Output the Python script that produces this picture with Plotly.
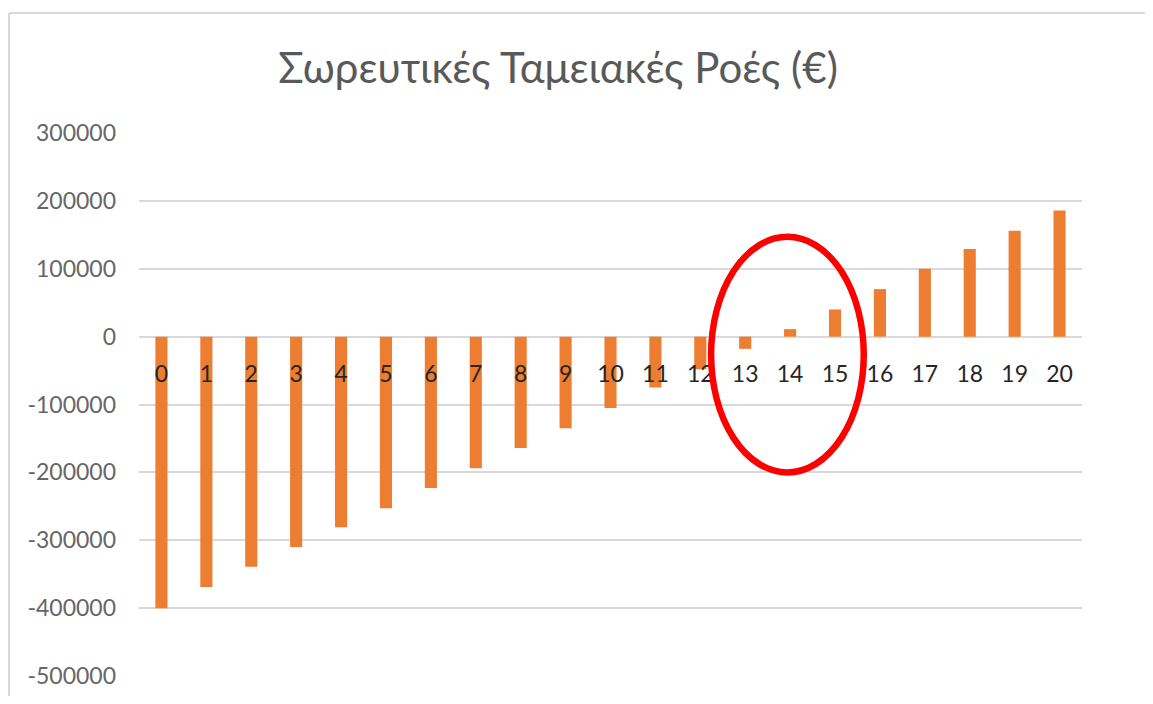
import plotly.graph_objects as go

years = list(range(21))
year_labels = [str(y) for y in years]
cumulative_cf = [-400000, -369000, -339000, -310000, -281000, -253000, -223000,
                 -194000, -164000, -135000, -105000, -75000, -48000, -18000,
                 11000, 40000, 70000, 100000, 129000, 156000, 186000]
y_ticks = [-500000, -400000, -300000, -200000, -100000, 0, 100000, 200000, 300000]
y_tick_labels = ["-500000", "-400000", "-300000", "-200000", "-100000", "0",
                 "100000", "200000", "300000"]

title_text = "Σωρευτικές Ταμειακές Ροές (€)"
FONT = "Lato, 'Open Sans', sans-serif"

fig = go.Figure()
fig.add_trace(go.Bar(x=years, y=cumulative_cf, marker=dict(color="#ED7D31", line=dict(width=0)),
                     width=0.27))

# page has an 8px body margin on every side; size the figure so nothing overflows
W, H = 1137, 688
L, R, T, B = 131, 63, 125, 20
pw, ph = W - L - R, H - T - B

fig.update_layout(
    width=W, height=H,
    margin=dict(l=L, r=R, t=T, b=B, autoexpand=False),
    paper_bgcolor="white", plot_bgcolor="white",
    showlegend=False,
    font=dict(family=FONT),
    title=dict(text=title_text, x=550 / W, xref="container", xanchor="center",
               y=1 - 60 / H, yref="container", yanchor="middle", automargin=False,
               font=dict(family=FONT, size=42, color="#595959")),
)

zero_pos = (0 - y_ticks[0]) / (y_ticks[-1] - y_ticks[0])
fig.update_xaxes(
    range=[-0.5, 20.5], tickmode="array", tickvals=years, ticktext=year_labels,
    showgrid=False, zeroline=False, showline=False, automargin=False,
    anchor="free", position=zero_pos,
    ticks="outside", ticklen=17, tickcolor="rgba(0,0,0,0)",
    tickfont=dict(family=FONT, size=23, color="#262626"),
)
fig.update_yaxes(
    range=[y_ticks[0], y_ticks[-1]], tickmode="array", tickvals=y_ticks, ticktext=y_tick_labels,
    showgrid=True, gridcolor="#d9d9d9", gridwidth=1.5,
    zeroline=False, showline=False, automargin=False,
    ticklabelstandoff=22,
    tickfont=dict(family=FONT, size=23, color="#666666"),
)

# chart-area border: only left and top edges are visible in the crop
bx = (1 - L) / pw
by = (H - B - 5) / ph
fig.add_shape(type="line", xref="paper", yref="paper", x0=bx, x1=bx, y0=-0.2, y1=by,
              line=dict(color="#d9d9d9", width=2), layer="below")
fig.add_shape(type="line", xref="paper", yref="paper", x0=bx, x1=(W - L + 20) / pw, y0=by, y1=by,
              line=dict(color="#d9d9d9", width=2), layer="below")

# red highlight ellipse
fig.add_shape(type="circle", xref="x", yref="y",
              x0=12.24, x1=15.64, y0=-200000, y1=147000,
              line=dict(color="#FF0000", width=6.5), fillcolor="rgba(0,0,0,0)")

fig.write_html("out.html")
